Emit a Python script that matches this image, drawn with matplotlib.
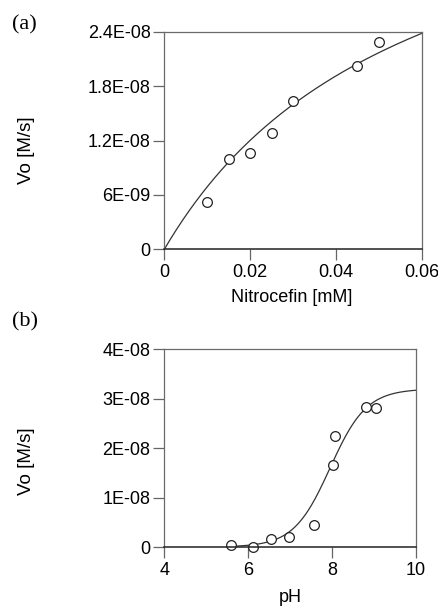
import numpy as np
import matplotlib
matplotlib.use("Agg")
import matplotlib.pyplot as plt

# Panel (a): Michaelis-Menten data
nitro_mM = [0.01, 0.015, 0.02, 0.025, 0.03, 0.045, 0.05]
vo_a = [5.2e-9, 1.0e-8, 1.06e-8, 1.28e-8, 1.64e-8, 2.02e-8, 2.29e-8]
mm_vmax = 4.69e-8
mm_km = 0.058

# Panel (b): pH profile
ph = [5.58, 6.12, 6.53, 6.98, 7.57, 8.06, 8.01, 8.81, 9.04]
vo_b = [4e-10, 1e-10, 1.6e-9, 2.0e-9, 4.5e-9, 2.25e-8, 1.65e-8, 2.83e-8, 2.82e-8]
hh_vmax = 3.2e-8
hh_pka = 7.95

a_xticks = [0, 0.02, 0.04, 0.06]
a_xticklabels = ["0", "0.02", "0.04", "0.06"]
a_yticks = [0, 6e-9, 1.2e-8, 1.8e-8, 2.4e-8]
a_yticklabels = ["0", "6E-09", "1.2E-08", "1.8E-08", "2.4E-08"]
b_xticks = [4, 6, 8, 10]
b_xticklabels = ["4", "6", "8", "10"]
b_yticks = [0, 1e-8, 2e-8, 3e-8, 4e-8]
b_yticklabels = ["0", "1E-08", "2E-08", "3E-08", "4E-08"]

plt.rcParams['font.family'] = ['Liberation Sans', 'DejaVu Sans']

W, H = 439, 608
fig = plt.figure(figsize=(W / 100, H / 100), dpi=100)

def ax_rect(l, r, t, b):
    return [l / W, 1 - b / H, (r - l) / W, (b - t) / H]

ax1 = fig.add_axes(ax_rect(164.5, 421.7, 32, 249))
ax2 = fig.add_axes(ax_rect(164.5, 416, 349.3, 547))

def style(ax):
    for s in ['left', 'top', 'right']:
        ax.spines[s].set_color('#6a6a6a')
        ax.spines[s].set_linewidth(0.9)
    ax.spines['bottom'].set_color('#222222')
    ax.spines['bottom'].set_linewidth(1.1)
    ax.tick_params(direction='out', length=8, width=0.9, color='#666666',
                   labelsize=13)
    ax.tick_params(axis='y', pad=2)
    ax.tick_params(axis='x', pad=3)

# (a)
s = np.linspace(0, 0.06, 200)
ax1.plot(s, mm_vmax * s / (mm_km + s), color='#333333', lw=0.9)
ax1.plot(nitro_mM, vo_a, 'o', ms=7, mfc='white', mec='#222222', mew=0.9,
         clip_on=False)
ax1.set_xlim(0, 0.06)
ax1.set_ylim(0, 2.4e-8)
ax1.set_xticks(a_xticks)
ax1.set_xticklabels(a_xticklabels)
ax1.set_yticks(a_yticks)
ax1.set_yticklabels(a_yticklabels)
style(ax1)

# (b)
p = np.linspace(5.6, 10, 200)
ax2.plot(p, hh_vmax / (1 + 10 ** (hh_pka - p)), color='#333333', lw=0.9)
ax2.plot(ph, vo_b, 'o', ms=7, mfc='white', mec='#222222', mew=0.9,
         clip_on=False)
ax2.set_xlim(4, 10)
ax2.set_ylim(0, 4e-8)
ax2.set_xticks(b_xticks)
ax2.set_xticklabels(b_xticklabels)
ax2.set_yticks(b_yticks)
ax2.set_yticklabels(b_yticklabels)
style(ax2)

fig.text(27 / W, 1 - 150 / H, "Vo [M/s]", rotation=90, ha='center', va='center', fontsize=13.5)
fig.text(27 / W, 1 - 461 / H, "Vo [M/s]", rotation=90, ha='center', va='center', fontsize=13.5)
fig.text(292 / W, 1 - 297 / H, "Nitrocefin [mM]", ha='center', va='center', fontsize=13)
fig.text(290 / W, 1 - 597 / H, "pH", ha='center', va='center', fontsize=13)
fig.text(12 / W, 1 - 25 / H, "(a)", family=['Liberation Serif'], fontsize=16,
         ha='left', va='center')
fig.text(12 / W, 1 - 322 / H, "(b)", family=['Liberation Serif'], fontsize=16,
         ha='left', va='center')

fig.savefig("out.png", dpi=100)
